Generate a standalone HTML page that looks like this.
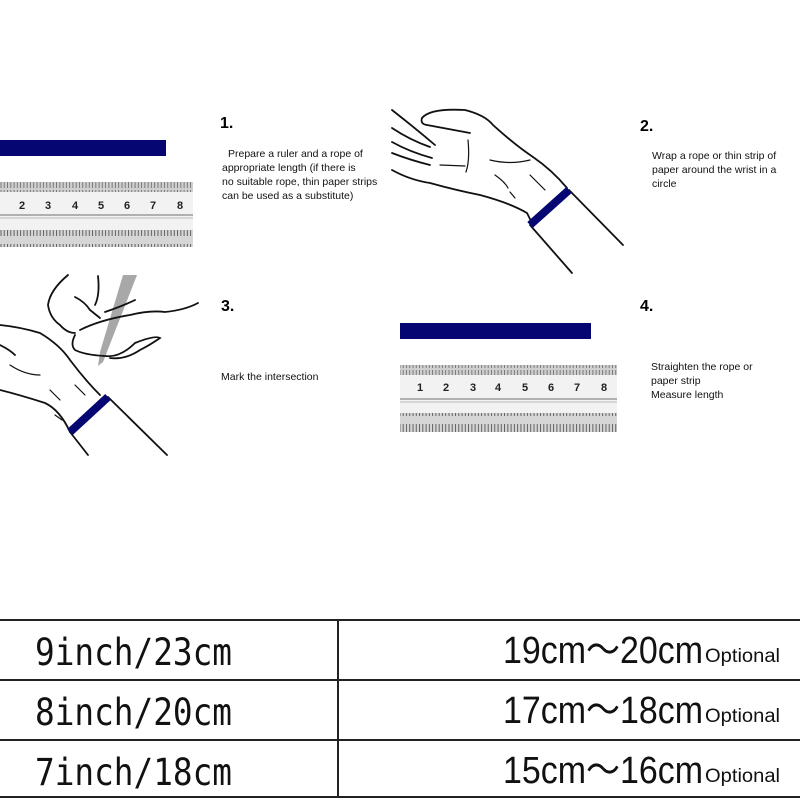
<!DOCTYPE html>
<html><head><meta charset="utf-8"><style>
html,body{margin:0;padding:0;background:#fff;}
body{width:800px;height:800px;overflow:hidden;position:relative;font-family:"Liberation Sans",sans-serif;}
svg{position:absolute;left:0;top:0;}
.t{font-family:"Liberation Sans",sans-serif;}
.m{font-family:"DejaVu Sans Mono","Liberation Mono",monospace;}
</style></head><body>
<svg width="800" height="800" viewBox="0 0 800 800" xmlns="http://www.w3.org/2000/svg">
<defs>
<pattern id="tk" width="3.27" height="20" patternUnits="userSpaceOnUse">
<rect width="3.27" height="20" fill="#d6d6d6"/><line x1="1" y1="4" x2="1" y2="16" stroke="#555" stroke-width="0.9"/>
</pattern>
<pattern id="tt" width="3.27" height="10" patternUnits="userSpaceOnUse">
<rect width="3.27" height="10" fill="#cfcfcf"/><line x1="1" y1="0" x2="1" y2="8" stroke="#666" stroke-width="0.8"/>
</pattern>
</defs>

<!-- Step 1 -->
<rect x="0" y="140" width="166" height="16" fill="#060673"/>
<g>
<rect x="0" y="182" width="193" height="65" fill="#f2f2f2"/>
<rect x="0" y="182" width="193" height="10" fill="url(#tt)"/>
<line x1="0" y1="215" x2="193" y2="215" stroke="#888" stroke-width="1.2"/>
<line x1="0" y1="218" x2="193" y2="218" stroke="#bbb"/>
<rect x="0" y="230" width="193" height="17" fill="url(#tk)"/>
<g class="t" font-size="11" font-weight="bold" fill="#222" text-anchor="middle">
<text x="22" y="209">2</text><text x="48" y="209">3</text><text x="75" y="209">4</text><text x="101" y="209">5</text><text x="127" y="209">6</text><text x="153" y="209">7</text><text x="180" y="209">8</text>
</g></g>
<text class="t" x="220" y="128" font-size="16" font-weight="bold">1.</text>
<g class="t" font-size="10.5" fill="#111">
<text x="228" y="157">Prepare a ruler and a rope of</text>
<text x="222" y="171">appropriate length (if there is</text>
<text x="222" y="185">no suitable rope, thin paper strips</text>
<text x="222" y="199">can be used as a substitute)</text>
</g>

<!-- Step 2 hand -->
<g fill="none" stroke="#111" stroke-width="1.8" stroke-linecap="round">
<path d="M422 118 Q430 108 465 110 Q485 115 493 125 Q515 145 533 157 Q552 170 567 188"/>
<path d="M422 118 Q420 124 427 125 L470 133"/>
<path d="M392 170 Q410 180 430 183 Q455 190 480 195 Q510 203 527 213 L532 223"/>
<path d="M392 110 Q415 128 435 145"/>
<path d="M392 128 Q410 140 430 147"/>
<path d="M392 142 Q410 152 432 158"/>
<path d="M392 153 Q410 160 430 165"/>
<path d="M569 190 L623 245"/>
<path d="M530 225 L572 273"/>
<path d="M440 165 L465 166 M468 140 Q470 160 466 172 M490 160 Q510 165 530 160 M495 175 Q505 182 508 188 M530 175 Q540 185 545 190 M510 192 L515 198" stroke-width="1.2"/>
</g>
<line x1="530" y1="225" x2="569" y2="190" stroke="#060673" stroke-width="8"/>
<text class="t" x="640" y="131" font-size="16" font-weight="bold">2.</text>
<g class="t" font-size="10.5" fill="#111">
<text x="652" y="159">Wrap a rope or thin strip of</text>
<text x="652" y="173">paper around the wrist in a</text>
<text x="652" y="187">circle</text>
</g>

<!-- Step 3 hand -->
<polygon points="123,275 137,275 103,362 98,366 100,352" fill="#a8a8a8"/>
<g fill="none" stroke="#111" stroke-width="1.8" stroke-linecap="round">
<path d="M0 325 Q20 327 40 333 Q60 345 70 360 Q85 380 100 395"/>
<path d="M0 345 Q10 350 15 355"/>
<path d="M68 275 Q50 290 48 305 Q50 318 60 325 Q67 333 75 333"/>
<path d="M75 297 Q85 302 90 310 L100 318"/>
<path d="M98 276 Q100 295 95 305"/>
<path d="M75 335 Q70 345 75 350 Q85 355 105 356 Q120 358 135 343 Q155 335 160 338 Q150 345 140 350 Q125 360 110 358"/>
<path d="M80 330 Q100 320 130 315 Q150 310 165 312 Q185 310 198 303"/>
<path d="M105 312 Q125 305 135 300"/>
<path d="M0 390 Q20 395 45 403 Q60 410 70 432"/>
<path d="M108 397 L167 455"/>
<path d="M70 432 L88 455"/>
<path d="M10 365 Q25 375 40 375 M50 390 Q55 395 60 400 M75 385 L85 395 M55 415 L62 420" stroke-width="1.2"/>
</g>
<line x1="70" y1="432" x2="108" y2="397" stroke="#060673" stroke-width="8"/>
<text class="t" x="221" y="311" font-size="16" font-weight="bold">3.</text>
<text class="t" x="221" y="380" font-size="10.5" fill="#111">Mark the intersection</text>

<!-- Step 4 -->
<rect x="400" y="323" width="191" height="16" fill="#060673"/>
<g>
<rect x="400" y="365" width="217" height="67" fill="#f2f2f2"/>
<rect x="400" y="365" width="217" height="10" fill="url(#tt)"/>
<line x1="400" y1="399" x2="617" y2="399" stroke="#888" stroke-width="1.2"/>
<line x1="400" y1="402" x2="617" y2="402" stroke="#bbb"/>
<rect x="400" y="413" width="217" height="19" fill="url(#tk)"/>
<g class="t" font-size="11" font-weight="bold" fill="#222" text-anchor="middle">
<text x="420" y="391">1</text><text x="446" y="391">2</text><text x="473" y="391">3</text><text x="498" y="391">4</text><text x="525" y="391">5</text><text x="551" y="391">6</text><text x="577" y="391">7</text><text x="604" y="391">8</text>
</g></g>
<text class="t" x="640" y="311" font-size="16" font-weight="bold">4.</text>
<g class="t" font-size="10.5" fill="#111">
<text x="651" y="370">Straighten the rope or</text>
<text x="651" y="384">paper strip</text>
<text x="651" y="398">Measure length</text>
</g>

<!-- Table -->
<g stroke="#222" stroke-width="2">
<line x1="0" y1="620" x2="800" y2="620"/>
<line x1="0" y1="680" x2="800" y2="680"/>
<line x1="0" y1="740" x2="800" y2="740"/>
<line x1="0" y1="797" x2="800" y2="797"/>
<line x1="338" y1="620" x2="338" y2="797"/>
</g>
<g class="m" font-size="37" fill="#111">
<text x="35" y="665" textLength="197" lengthAdjust="spacingAndGlyphs">9inch/23cm</text>
<text x="35" y="725" textLength="197" lengthAdjust="spacingAndGlyphs">8inch/20cm</text>
<text x="35" y="785" textLength="197" lengthAdjust="spacingAndGlyphs">7inch/18cm</text>
</g>
<g class="t" fill="#111">
<text x="503" y="663" font-size="38" textLength="200" lengthAdjust="spacingAndGlyphs">19cm～20cm</text>
<text x="503" y="723" font-size="38" textLength="200" lengthAdjust="spacingAndGlyphs">17cm～18cm</text>
<text x="503" y="783" font-size="38" textLength="200" lengthAdjust="spacingAndGlyphs">15cm～16cm</text>
<text x="705" y="662" font-size="19" textLength="75" lengthAdjust="spacingAndGlyphs">Optional</text>
<text x="705" y="722" font-size="19" textLength="75" lengthAdjust="spacingAndGlyphs">Optional</text>
<text x="705" y="782" font-size="19" textLength="75" lengthAdjust="spacingAndGlyphs">Optional</text>
</g>
</svg>
</body></html>
